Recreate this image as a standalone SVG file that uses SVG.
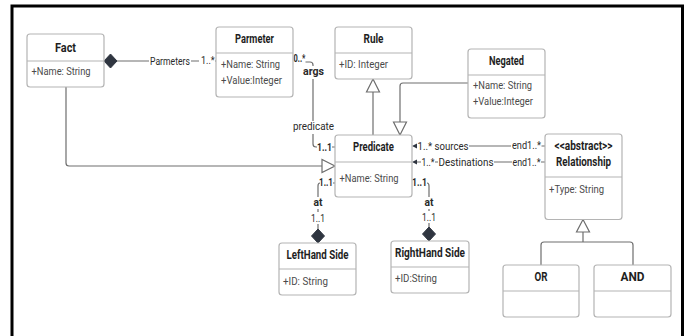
<svg xmlns="http://www.w3.org/2000/svg" width="690" height="336" viewBox="0 0 690 336">
<defs>
<style>
text{font-family:Roboto,"Liberation Sans",sans-serif;}
.box{fill:#fff;stroke:#b4b4b4;stroke-width:1.2;}
.div{stroke:#b4b4b4;stroke-width:1.2;}
.t{font-size:12px;font-weight:bold;fill:#1e1e1e;text-anchor:middle;}
.a{font-size:11.5px;fill:#4a4a4a;}
.c{fill:none;stroke:#6e6e6e;stroke-width:1.2;}
.l{font-size:11.5px;fill:#2a2a2a;}
.lb{font-size:11.5px;font-weight:bold;fill:#2a2a2a;}
.m{text-anchor:middle;}
.tri{fill:#fff;stroke:#6e6e6e;stroke-width:1.2;}
.dia{fill:#2f3540;stroke:#2f3540;stroke-width:1;}
.arr{fill:#2f3540;}
</style>
</defs>
<rect x="0" y="0" width="690" height="336" fill="#fff"/>
<rect x="12" y="6" width="670.5" height="340" fill="none" stroke="#000" stroke-width="3"/>

<g id="connectors">
  <!-- Fact - Parmeter composition -->
  <path class="c" d="M117,61 H149 M191,61 H199 M215,61 H216" stroke="#555"/>
  <path class="dia" d="M104,61 L110.5,54 L117,61 L110.5,68 Z"/>
  <text class="l" transform="translate(150,65) scale(0.75,1)">Parmeters</text>
  <text class="l" transform="translate(201,64) scale(0.78,1)">1..*</text>
  <!-- Parmeter args - Predicate -->
  <path class="c" d="M305.5,62 H310 Q313,62 313,65 V66 M313,79 V121 M313,134 V144 Q313,147 316,147 H317 M332,147 H335"/>
  <text class="lb" x="293.5" y="62" textLength="12" lengthAdjust="spacingAndGlyphs">0..*</text>
  <text class="lb m" x="313.5" y="75" textLength="21" lengthAdjust="spacingAndGlyphs">args</text>
  <text class="l m" x="313.5" y="130" textLength="41" lengthAdjust="spacingAndGlyphs">predicate</text>
  <text class="lb" x="317" y="151" textLength="15" lengthAdjust="spacingAndGlyphs">1..1</text>
  <!-- Predicate -> Rule generalization -->
  <path class="c" d="M373,135 V92"/>
  <path class="tri" d="M373,79 L379.5,92 L366.5,92 Z"/>
  <!-- Negated -> Predicate generalization -->
  <path class="c" d="M468,83 H403 Q400,83 400,86 V122"/>
  <path class="tri" d="M400,135 L393.5,122 L406.5,122 Z"/>
  <!-- Fact -> Predicate generalization -->
  <path class="c" d="M66,87 V163 Q66,166 69,166 H322"/>
  <path class="tri" d="M335,166 L322,159.5 L322,172.5 Z"/>
  <!-- sources -->
  <path class="c" d="M416,146 H414 M469,146 H511 M541.5,146 H545"/>
  <path class="arr" d="M412,146 L417,143.5 L417,148.5 Z"/>
  <text class="l" x="417.5" y="150" textLength="51" lengthAdjust="spacingAndGlyphs">1..* sources</text>
  <text class="l" x="512" y="149" textLength="29" lengthAdjust="spacingAndGlyphs">end1..*</text>
  <!-- destinations -->
  <path class="c" d="M416,162 H421 M435,162 H438 M494,162 H512 M541,162 H545"/>
  <path class="arr" d="M412,162 L417,159.5 L417,164.5 Z"/>
  <text class="l" x="421.5" y="166" textLength="13" lengthAdjust="spacingAndGlyphs">1..*</text>
  <text class="l" x="438.5" y="166" textLength="55" lengthAdjust="spacingAndGlyphs">Destinations</text>
  <text class="l" x="512.5" y="166" textLength="28" lengthAdjust="spacingAndGlyphs">end1..*</text>
  <!-- Predicate - LeftHand Side composition -->
  <path class="c" d="M320,183 Q318,183 318,186 V197 M318,209 V212 M318,224 V229 M333,183 H335"/>
  <path class="dia" d="M318,243 L311.5,236 L318,229 L324.5,236 Z"/>
  <text class="lb" x="319" y="186" textLength="14" lengthAdjust="spacingAndGlyphs">1..1</text>
  <text class="lb m" x="318" y="206" textLength="9" lengthAdjust="spacingAndGlyphs">at</text>
  <text class="l m" x="318" y="222" textLength="14" lengthAdjust="spacingAndGlyphs">1..1</text>
  <!-- Predicate - RightHand Side composition -->
  <path class="c" d="M427,183 Q429,183 429,186 V197 M429,209 V211 M429,223 V227"/>
  <path class="dia" d="M429,241 L422.5,234 L429,227 L435.5,234 Z"/>
  <text class="lb" x="412" y="186" textLength="15" lengthAdjust="spacingAndGlyphs">1..1</text>
  <text class="lb m" x="429" y="206" textLength="9" lengthAdjust="spacingAndGlyphs">at</text>
  <text class="l m" x="429" y="221" textLength="14" lengthAdjust="spacingAndGlyphs">1..1</text>
  <!-- OR / AND -> Relationship generalization -->
  <path class="c" d="M583,232 V242 M541,265 V245 Q541,242 544,242 H630 Q633,242 633,245 V265"/>
  <path class="tri" d="M583,219.5 L589.5,232 L576.5,232 Z"/>
</g>

<g id="fact">
  <rect class="box" x="27" y="34" width="77" height="53" rx="3"/>
  <line class="div" x1="27" y1="61" x2="104" y2="61"/>
  <text class="t" x="65.5" y="52" textLength="21" lengthAdjust="spacingAndGlyphs">Fact</text>
  <text class="a" x="31.5" y="75" textLength="59" lengthAdjust="spacingAndGlyphs">+Name: String</text>
</g>

<g id="parmeter">
  <rect class="box" x="216" y="27" width="77" height="70" rx="3"/>
  <line class="div" x1="216" y1="53" x2="293" y2="53"/>
  <text class="t" x="254.5" y="43" textLength="39" lengthAdjust="spacingAndGlyphs">Parmeter</text>
  <text class="a" x="221" y="68" textLength="59" lengthAdjust="spacingAndGlyphs">+Name: String</text>
  <text class="a" x="221" y="84" textLength="61" lengthAdjust="spacingAndGlyphs">+Value:Integer</text>
</g>

<g id="rule">
  <rect class="box" x="335" y="27" width="77" height="52" rx="3"/>
  <line class="div" x1="335" y1="53" x2="412" y2="53"/>
  <text class="t" x="373.5" y="43" textLength="20" lengthAdjust="spacingAndGlyphs">Rule</text>
  <text class="a" x="339" y="68" textLength="49" lengthAdjust="spacingAndGlyphs">+ID: Integer</text>
</g>

<g id="negated">
  <rect class="box" x="468" y="49" width="77" height="69" rx="3"/>
  <line class="div" x1="468" y1="75" x2="545" y2="75"/>
  <text class="t" x="506.5" y="65" textLength="35" lengthAdjust="spacingAndGlyphs">Negated</text>
  <text class="a" x="473" y="89" textLength="59" lengthAdjust="spacingAndGlyphs">+Name: String</text>
  <text class="a" x="473" y="105" textLength="60" lengthAdjust="spacingAndGlyphs">+Value:Integer</text>
</g>

<g id="predicate">
  <rect class="box" x="335" y="135" width="77" height="62" rx="3"/>
  <line class="div" x1="335" y1="162" x2="412" y2="162"/>
  <text class="t" x="373.5" y="151" textLength="41" lengthAdjust="spacingAndGlyphs">Predicate</text>
  <text class="a" x="339.5" y="182" textLength="59" lengthAdjust="spacingAndGlyphs">+Name: String</text>
</g>

<g id="relationship">
  <rect class="box" x="545" y="134" width="77" height="85.5" rx="3"/>
  <line class="div" x1="545" y1="177" x2="622" y2="177"/>
  <text class="t" x="583.5" y="150" textLength="58" lengthAdjust="spacingAndGlyphs">&lt;&lt;abstract&gt;&gt;</text>
  <text class="t" x="583.5" y="166" textLength="55" lengthAdjust="spacingAndGlyphs">Relationship</text>
  <text class="a" x="549" y="193" textLength="55" lengthAdjust="spacingAndGlyphs">+Type: String</text>
</g>

<g id="lefthand-side">
  <rect class="box" x="279" y="243" width="77" height="52" rx="3"/>
  <line class="div" x1="279" y1="269" x2="356" y2="269"/>
  <text class="t" x="317.5" y="259" textLength="62" lengthAdjust="spacingAndGlyphs">LeftHand Side</text>
  <text class="a" x="283" y="285" textLength="45" lengthAdjust="spacingAndGlyphs">+ID: String</text>
</g>

<g id="righthand-side">
  <rect class="box" x="391" y="241" width="78" height="52" rx="3"/>
  <line class="div" x1="391" y1="267" x2="469" y2="267"/>
  <text class="t" x="430" y="257" textLength="70" lengthAdjust="spacingAndGlyphs">RightHand Side</text>
  <text class="a" x="395" y="282" textLength="42" lengthAdjust="spacingAndGlyphs">+ID:String</text>
</g>

<g id="or">
  <rect class="box" x="503" y="265" width="76" height="52" rx="3"/>
  <line class="div" x1="503" y1="291" x2="579" y2="291"/>
  <text class="t" x="541" y="281" textLength="13" lengthAdjust="spacingAndGlyphs">OR</text>
</g>

<g id="and">
  <rect class="box" x="594" y="265" width="77" height="52" rx="3"/>
  <line class="div" x1="594" y1="291" x2="671" y2="291"/>
  <text class="t" x="632.5" y="281" textLength="24" lengthAdjust="spacingAndGlyphs">AND</text>
</g>
</svg>
